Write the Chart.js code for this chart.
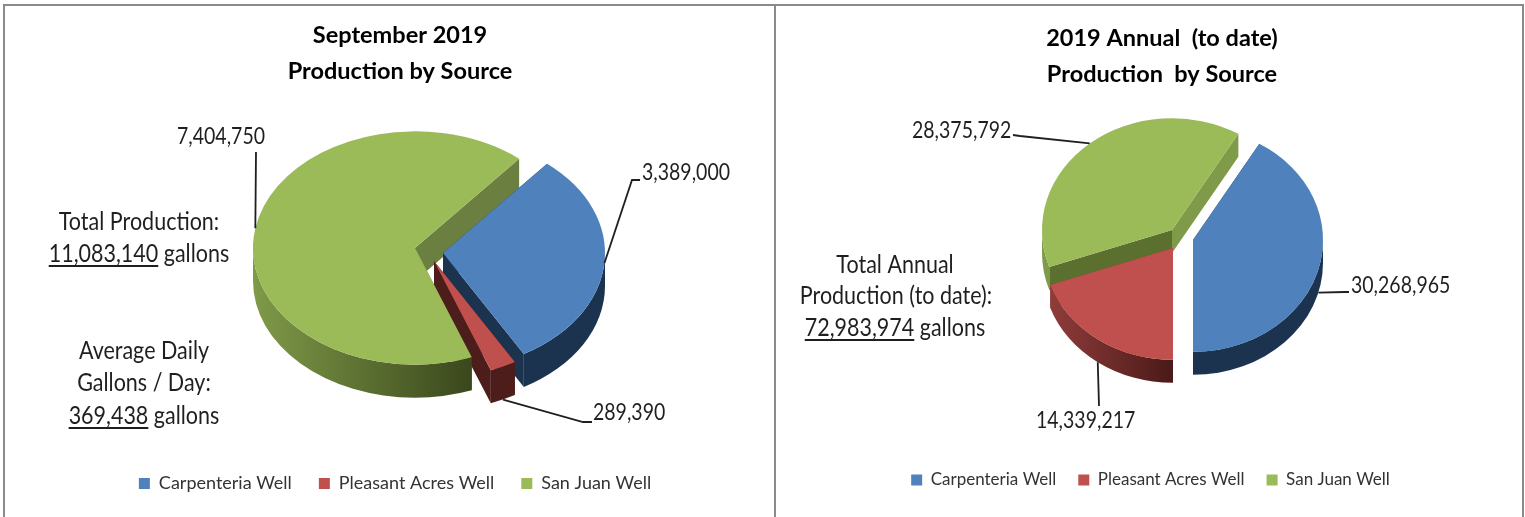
<!DOCTYPE html>
<html>
<head>
<meta charset="utf-8">
<title>Production by Source</title>
<script src="https://cdn.jsdelivr.net/npm/chart.js@4/dist/chart.umd.js"></script>
<style>
  html, body { margin: 0; background: #fff; overflow: hidden; width: 1525px; height: 517px; }
  canvas { position: absolute; top: 0; }
  .rule { position: absolute; background: #8a8a8a; }
</style>
</head>
<body>
<div class="rule" style="left:3px;top:4px;width:1520px;height:2px"></div>
<div class="rule" style="left:3px;top:4px;width:2px;height:513px"></div>
<div class="rule" style="left:774px;top:4px;width:2px;height:513px"></div>
<div class="rule" style="left:1522px;top:4px;width:2px;height:513px"></div>
<canvas id="september" width="775" height="517" style="left:0"></canvas>
<canvas id="annual" width="749" height="517" style="left:776px"></canvas>
<script>
const sources = ['Carpenteria Well', 'Pleasant Acres Well', 'San Juan Well'];
const septemberGallons = [3389000, 289390, 7404750];
const annualGallons = [30268965, 14339217, 28375792];
const faceColors = ['#4f81bd', '#c0504d', '#9bbb59'];

const FONT = 'Lato, sans-serif';
const TEXT = '#1f1f1f';
const TEXT_STRETCH = 1.16;

// the pie's tilted sides: [left, right] gradient of the rim and the [start, end] cut walls
const septemberSides = {
  rim: [['#1c3350', '#1c3350'], ['#4c1d1b', '#4c1d1b'], ['#7f9a48', '#3a471c']],
  cuts: [['#1c3350', '#1c3350'], ['#4c1d1b', '#4c1d1b'], ['#6b8040', '#6b8040']]
};
const annualSides = {
  rim: [['#1c3350', '#1c3350'], ['#8f3c3a', '#4a1a18'], ['#7f9a48', '#7f9a48']],
  cuts: [['#1c3350', '#1c3350'], ['#8f3c3a', '#8f3c3a'], ['#5b6f2e', '#7f9a48']]
};

const septemberCallouts = [
  { knee: [632, 180], end: [640, 180], text: [642, 173], drop: 0 },
  { knee: [583, 422], end: [592, 422], text: [593, 413], drop: 1 },
  { knee: [256, 152], end: [256, 152], text: [177, 137], drop: 0 }
];
const annualCallouts = [
  { knee: [1345, 292], end: [1349, 292], text: [1351, 286], drop: 1 },
  { knee: [1099, 406], end: [1099, 406], text: [1036, 421], drop: 1 },
  { knee: [1020, 136], end: [1013, 135], text: [912, 131], drop: 0 }
];

const septemberNotes = [
  { text: 'Total Production:', x: 139, y: 222 },
  { under: '11,083,140', text: ' gallons', x: 139, y: 254 },
  { text: 'Average Daily', x: 144, y: 351 },
  { text: 'Gallons / Day:', x: 144, y: 383 },
  { under: '369,438', text: ' gallons', x: 144, y: 416 }
];
const annualNotes = [
  { text: 'Total Annual', x: 895, y: 265 },
  { text: 'Production (to date):', x: 896, y: 296 },
  { under: '72,983,974', text: ' gallons', x: 895, y: 328 }
];

function drawCuts(ctx, arc, c, o, colors) {
  const r = arc.outerRadius;
  [arc.startAngle, arc.endAngle].forEach((a, i) => {
    const px = c[0] + r * Math.cos(a);
    const py = c[1] + r * o.squash * Math.sin(a);
    ctx.beginPath();
    ctx.moveTo(c[0], c[1]);
    ctx.lineTo(px, py);
    ctx.lineTo(px, py + o.depth);
    ctx.lineTo(c[0], c[1] + o.depth);
    ctx.closePath();
    ctx.fillStyle = colors[i];
    ctx.fill();
  });
}

// only the part of the rim between 0 and PI faces the viewer
function drawRim(ctx, arc, c, o, colors) {
  const a0 = Math.max(arc.startAngle, 0);
  const a1 = Math.min(arc.endAngle, Math.PI);
  if (a1 <= a0) return;
  const r = arc.outerRadius;
  const x0 = a1 >= Math.PI ? c[0] - r : c[0] + r * Math.cos(a1);
  const x1 = c[0] + r * Math.cos(a0);
  const fill = ctx.createLinearGradient(x0, 0, x1, 0);
  fill.addColorStop(0, colors[0]);
  fill.addColorStop(1, colors[1]);
  ctx.beginPath();
  ctx.ellipse(c[0], c[1], r, r * o.squash, 0, a0, a1);
  ctx.ellipse(c[0], c[1] + o.depth, r, r * o.squash, 0, a1, a0, true);
  ctx.closePath();
  ctx.fillStyle = fill;
  ctx.fill();
}

function drawFace(ctx, arc, c, o) {
  ctx.save();
  ctx.translate(c[0], c[1]);
  ctx.scale(1, o.squash);
  ctx.translate(-arc.x, -arc.y);
  arc.draw(ctx);
  ctx.restore();
}

function tallText(ctx, str, x, y) {
  ctx.save();
  ctx.translate(x, y);
  ctx.scale(1, TEXT_STRETCH);
  ctx.fillText(str, 0, 0);
  ctx.restore();
}

const tiltedPie = {
  id: 'tiltedPie',
  afterLayout(chart, args, o) {
    const title = chart.titleBlock;
    const titleDx = o.titleX - o.panelX - (title.left + title.right) / 2;
    title.left += titleDx;
    title.right += titleDx;
    const legend = chart.legend;
    const legendDx = o.legendAt[0] - o.panelX - (legend.left + legend.right) / 2;
    const legendDy = o.legendAt[1] - (legend.top + legend.bottom) / 2;
    legend.left += legendDx;
    legend.right += legendDx;
    legend.top += legendDy;
    legend.bottom += legendDy;
  },
  beforeDatasetsDraw(chart, args, o) {
    const ctx = chart.ctx;
    const [blue, red, green] = chart.getDatasetMeta(0).data;
    const [cBlue, cRed, cGreen] = o.centres;
    ctx.save();
    ctx.translate(-o.panelX, 0);
    // back to front: sides overlap each other in this order
    drawCuts(ctx, green, cGreen, o, o.sides.cuts[2]);
    drawCuts(ctx, blue, cBlue, o, o.sides.cuts[0]);
    drawRim(ctx, blue, cBlue, o, o.sides.rim[0]);
    drawFace(ctx, blue, cBlue, o);
    drawCuts(ctx, red, cRed, o, o.sides.cuts[1]);
    drawRim(ctx, red, cRed, o, o.sides.rim[1]);
    drawRim(ctx, green, cGreen, o, o.sides.rim[2]);
    drawFace(ctx, green, cGreen, o);
    drawFace(ctx, red, cRed, o);
    ctx.restore();
    return false;
  },
  afterDraw(chart, args, o) {
    const ctx = chart.ctx;
    const values = chart.data.datasets[0].data;
    ctx.save();
    ctx.translate(-o.panelX, 0);
    ctx.fillStyle = TEXT;
    ctx.strokeStyle = TEXT;
    ctx.lineWidth = 1.8;
    ctx.textBaseline = 'middle';

    ctx.font = '19.5px ' + FONT;
    chart.getDatasetMeta(0).data.forEach((arc, i) => {
      const c = o.centres[i];
      const call = o.callouts[i];
      const mid = (arc.startAngle + arc.endAngle) / 2;
      ctx.beginPath();
      ctx.moveTo(c[0] + arc.outerRadius * Math.cos(mid),
        c[1] + arc.outerRadius * o.squash * Math.sin(mid) + call.drop * o.depth);
      ctx.lineTo(call.knee[0], call.knee[1]);
      ctx.lineTo(call.end[0], call.end[1]);
      ctx.stroke();
      tallText(ctx, values[i].toLocaleString('en-US'), call.text[0], call.text[1]);
    });

    ctx.font = '21.5px ' + FONT;
    o.notes.forEach(n => {
      const head = n.under || '';
      const left = n.x - ctx.measureText(head + n.text).width / 2;
      tallText(ctx, head + n.text, left, n.y);
      if (head) {
        ctx.beginPath();
        ctx.moveTo(left, n.y + 12);
        ctx.lineTo(left + ctx.measureText(head).width, n.y + 12);
        ctx.stroke();
      }
    });
    ctx.restore();
  }
};

function pieChart(id, title, values, pie, titleTop) {
  return new Chart(document.getElementById(id), {
    type: 'pie',
    data: {
      labels: sources,
      datasets: [{ data: values, backgroundColor: faceColors, borderWidth: 0 }]
    },
    options: {
      responsive: false,
      animation: false,
      rotation: pie.rotation,
      radius: pie.radius,
      plugins: {
        title: {
          display: true,
          text: title,
          color: '#000',
          padding: { top: titleTop, bottom: 0 },
          font: { family: FONT, size: 23.5, weight: 'bold', lineHeight: 1.52 }
        },
        legend: {
          position: 'bottom',
          labels: {
            boxWidth: 11,
            boxHeight: 11,
            padding: pie.legendGap,
            color: '#333',
            font: { family: FONT, size: pie.legendSize }
          }
        },
        tooltip: { enabled: false },
        tiltedPie: pie
      }
    },
    plugins: [tiltedPie]
  });
}

pieChart('september', ['September 2019', 'Production by Source'], septemberGallons, {
  panelX: 0,
  rotation: 40,
  radius: 162,
  squash: 0.72,
  depth: 33,
  centres: [[443, 253], [434, 261], [415, 248]],
  sides: septemberSides,
  callouts: septemberCallouts,
  notes: septemberNotes,
  titleX: 400,
  legendAt: [395, 475],
  legendGap: 27,
  legendSize: 18
}, 18);

pieChart('annual', ['2019 Annual  (to date)', 'Production  by Source'], annualGallons, {
  panelX: 776,
  rotation: 30.7,
  radius: 130,
  squash: 0.86,
  depth: 23,
  centres: [[1193, 240], [1173, 248], [1172, 230]],
  sides: annualSides,
  callouts: annualCallouts,
  notes: annualNotes,
  titleX: 1162,
  legendAt: [1150.5, 474],
  legendGap: 22,
  legendSize: 17
}, 21);
</script>
</body>
</html>
